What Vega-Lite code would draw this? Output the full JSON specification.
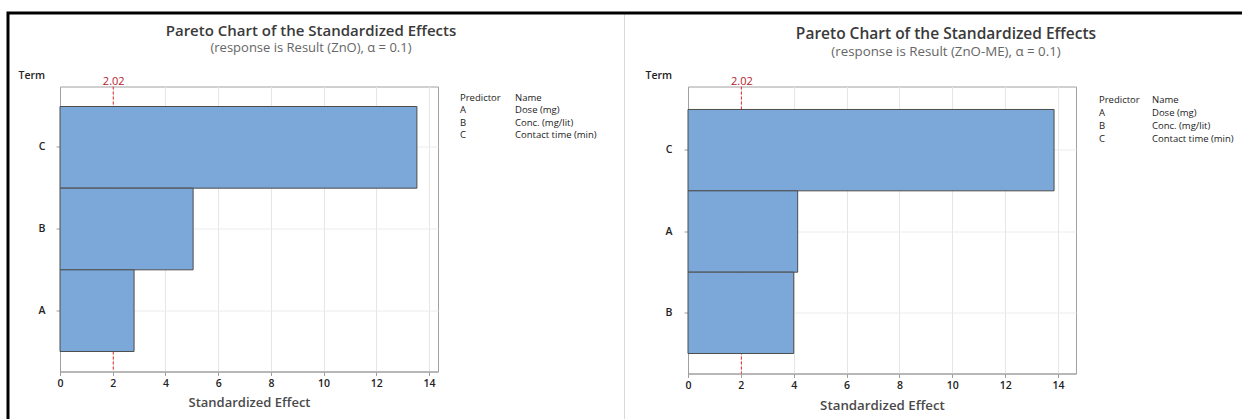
{
  "$schema": "https://vega.github.io/schema/vega-lite/v6.json",
  "padding": {"left": 6, "top": 11, "right": 0, "bottom": 0},
  "background": "white",
  "bounds": "flush",
  "spacing": 0,
  "config": {
    "view": {"stroke": null},
    "font": "Open Sans",
    "axis": {"labelFont": "Open Sans", "titleFont": "Open Sans"},
    "title": {"font": "Open Sans", "subtitleFont": "Open Sans"}
  },
  "vconcat": [
    {
      "bounds": "flush",
      "spacing": 73.5,
      "vconcat": [
        {
          "bounds": "flush",
          "spacing": 0,
          "hconcat": [
            {"width": 615.5, "height": 1, "data": {"values": []}, "mark": {"type": "rect", "opacity": 0}},
            {"width": 650, "height": 415, "data": {"values": []}, "mark": {"type": "rect", "opacity": 0}, "view": {"stroke": "#d9d9d9", "strokeWidth": 1}}
          ]
        },
        {
          "bounds": "flush",
          "spacing": 0,
          "hconcat": [
            {"width": 51.5, "height": 1, "data": {"values": []}, "mark": {"type": "rect", "opacity": 0}},
            {
              "width": 378,
              "height": 285,
              "view": {"stroke": "#a0a0a0", "strokeWidth": 1},
              "title": {
                "text": "Pareto Chart of the Standardized Effects",
                "subtitle": "(response is Result (ZnO), α = 0.1)",
                "anchor": "middle",
                "frame": "group",
                "dx": 62,
                "offset": 16,
                "fontSize": 15,
                "fontWeight": 600,
                "color": "#3a3a3a",
                "subtitleFontSize": 13,
                "subtitleColor": "#666666",
                "subtitlePadding": 3
              },
              "layer": [
                {
                  "data": {"values": [{"critical": 2.02}]},
                  "mark": {"type": "rule", "color": "#e8262b", "strokeDash": [3, 2], "strokeWidth": 1},
                  "encoding": {
                    "x": {
                      "field": "critical",
                      "type": "quantitative",
                      "scale": {"domain": [0, 14.34], "nice": false, "zero": false},
                      "axis": {"orient": "top", "values": [2.02], "format": ".2f", "domain": false, "ticks": false, "grid": false, "labelColor": "#b3202a", "labelFontSize": 11, "labelPadding": 0, "title": null, "labelFlush": false}
                    }
                  }
                },
                {
                  "data": {"values": [
                    {"term": "C", "effect": 13.54},
                    {"term": "B", "effect": 5.05},
                    {"term": "A", "effect": 2.81}
                  ]},
                  "mark": {"type": "bar", "fill": "#7ba7d9", "stroke": "#4d4d4d", "strokeWidth": 1},
                  "encoding": {
                    "y": {
                      "field": "term",
                      "type": "nominal",
                      "sort": ["C", "B", "A"],
                      "scale": {"paddingInner": 0, "paddingOuter": 0.245, "align": 0.5},
                      "axis": {"title": "Term", "titleAngle": 0, "titleAlign": "left", "titleBaseline": "middle", "titleX": -42, "titleY": -11, "titleFontSize": 10.5, "titleFontWeight": 600, "titleColor": "#222222", "labelFontSize": 10.5, "labelFontWeight": 600, "labelColor": "#222222", "labelPadding": 11, "tickSize": 4, "tickColor": "#a0a0a0", "domainColor": "#a0a0a0", "grid": true, "gridColor": "#ececec"}
                    },
                    "x": {
                      "field": "effect",
                      "type": "quantitative",
                      "scale": {"domain": [0, 14.34], "nice": false, "zero": false},
                      "axis": {"orient": "bottom", "values": [0, 2, 4, 6, 8, 10, 12, 14], "format": "d", "grid": true, "gridColor": "#e6e6e6", "domainColor": "#a0a0a0", "tickColor": "#a0a0a0", "tickSize": 4, "labelFontSize": 10.5, "labelFontWeight": 600, "labelColor": "#222222", "labelPadding": 3, "labelFlush": false, "title": "Standardized Effect", "titleFontSize": 13, "titleFontWeight": 600, "titleColor": "#4a4a4a", "titlePadding": 7}
                    }
                  }
                }
              ],
              "resolve": {"axis": {"x": "independent"}}
            },
            {"width": 22, "height": 1, "data": {"values": []}, "mark": {"type": "rect", "opacity": 0}},
            {
              "width": 55,
              "height": 59.5,
              "data": {"values": [
                {"row": 0, "pred": "Predictor", "name": "Name"},
                {"row": 1, "pred": "A", "name": "Dose (mg)"},
                {"row": 2, "pred": "B", "name": "Conc. (mg/lit)"},
                {"row": 3, "pred": "C", "name": "Contact time (min)"}
              ]},
              "transform": [{"fold": ["pred", "name"], "as": ["col", "label"]}],
              "mark": {"type": "text", "align": "left", "baseline": "middle", "fontSize": 9.5, "color": "#222222"},
              "encoding": {
                "x": {"field": "col", "type": "nominal", "scale": {"type": "point", "domain": ["pred", "name"], "padding": 0}, "axis": null},
                "y": {"field": "row", "type": "ordinal", "scale": {"type": "point", "padding": 0.88}, "axis": null},
                "text": {"field": "label"}
              }
            },
            {"width": 173, "height": 1, "data": {"values": []}, "mark": {"type": "rect", "opacity": 0}},
            {
              "width": 388,
              "height": 287,
              "view": {"stroke": "#a0a0a0", "strokeWidth": 1},
              "title": {
                "text": "Pareto Chart of the Standardized Effects",
                "subtitle": "(response is Result (ZnO-ME), α = 0.1)",
                "anchor": "middle",
                "frame": "group",
                "dx": 64,
                "offset": 12,
                "fontSize": 15.5,
                "fontWeight": 600,
                "color": "#3a3a3a",
                "subtitleFontSize": 13.3,
                "subtitleColor": "#666666",
                "subtitlePadding": 3
              },
              "layer": [
                {
                  "data": {"values": [{"critical": 2.02}]},
                  "mark": {"type": "rule", "color": "#e8262b", "strokeDash": [3, 2], "strokeWidth": 1},
                  "encoding": {
                    "x": {
                      "field": "critical",
                      "type": "quantitative",
                      "scale": {"domain": [0, 14.68], "nice": false, "zero": false},
                      "axis": {"orient": "top", "values": [2.02], "format": ".2f", "domain": false, "ticks": false, "grid": false, "labelColor": "#b3202a", "labelFontSize": 11, "labelPadding": 0, "title": null, "labelFlush": false}
                    }
                  }
                },
                {
                  "data": {"values": [
                    {"term": "C", "effect": 13.85},
                    {"term": "A", "effect": 4.15},
                    {"term": "B", "effect": 4.0}
                  ]},
                  "mark": {"type": "bar", "fill": "#7ba7d9", "stroke": "#4d4d4d", "strokeWidth": 1},
                  "encoding": {
                    "y": {
                      "field": "term",
                      "type": "nominal",
                      "sort": ["C", "A", "B"],
                      "scale": {"paddingInner": 0, "paddingOuter": 0.264, "align": 0.535},
                      "axis": {"title": "Term", "titleAngle": 0, "titleAlign": "left", "titleBaseline": "middle", "titleX": -43, "titleY": -11, "titleFontSize": 10.5, "titleFontWeight": 600, "titleColor": "#222222", "labelFontSize": 10.5, "labelFontWeight": 600, "labelColor": "#222222", "labelPadding": 12, "tickSize": 4, "tickColor": "#a0a0a0", "domainColor": "#a0a0a0", "grid": true, "gridColor": "#ececec"}
                    },
                    "x": {
                      "field": "effect",
                      "type": "quantitative",
                      "scale": {"domain": [0, 14.68], "nice": false, "zero": false},
                      "axis": {"orient": "bottom", "values": [0, 2, 4, 6, 8, 10, 12, 14], "format": "d", "grid": true, "gridColor": "#e6e6e6", "domainColor": "#a0a0a0", "tickColor": "#a0a0a0", "tickSize": 4, "labelFontSize": 10.5, "labelFontWeight": 600, "labelColor": "#222222", "labelPadding": 3, "labelFlush": false, "title": "Standardized Effect", "titleFontSize": 13.3, "titleFontWeight": 600, "titleColor": "#4a4a4a", "titlePadding": 7}
                    }
                  }
                }
              ],
              "resolve": {"axis": {"x": "independent"}}
            },
            {"width": 23, "height": 1, "data": {"values": []}, "mark": {"type": "rect", "opacity": 0}},
            {
              "width": 53,
              "height": 65.5,
              "data": {"values": [
                {"row": 0, "pred": "Predictor", "name": "Name"},
                {"row": 1, "pred": "A", "name": "Dose (mg)"},
                {"row": 2, "pred": "B", "name": "Conc. (mg/lit)"},
                {"row": 3, "pred": "C", "name": "Contact time (min)"}
              ]},
              "transform": [{"fold": ["pred", "name"], "as": ["col", "label"]}],
              "mark": {"type": "text", "align": "left", "baseline": "middle", "fontSize": 9.5, "color": "#222222"},
              "encoding": {
                "x": {"field": "col", "type": "nominal", "scale": {"type": "point", "domain": ["pred", "name"], "padding": 0}, "axis": null},
                "y": {"field": "row", "type": "ordinal", "scale": {"type": "point", "padding": 1.12}, "axis": null},
                "text": {"field": "label"}
              }
            }
          ]
        }
      ]
    },
    {"width": 1260, "height": 415, "data": {"values": []}, "mark": {"type": "rect", "opacity": 0}, "view": {"stroke": "#000000", "strokeWidth": 3}}
  ]
}
